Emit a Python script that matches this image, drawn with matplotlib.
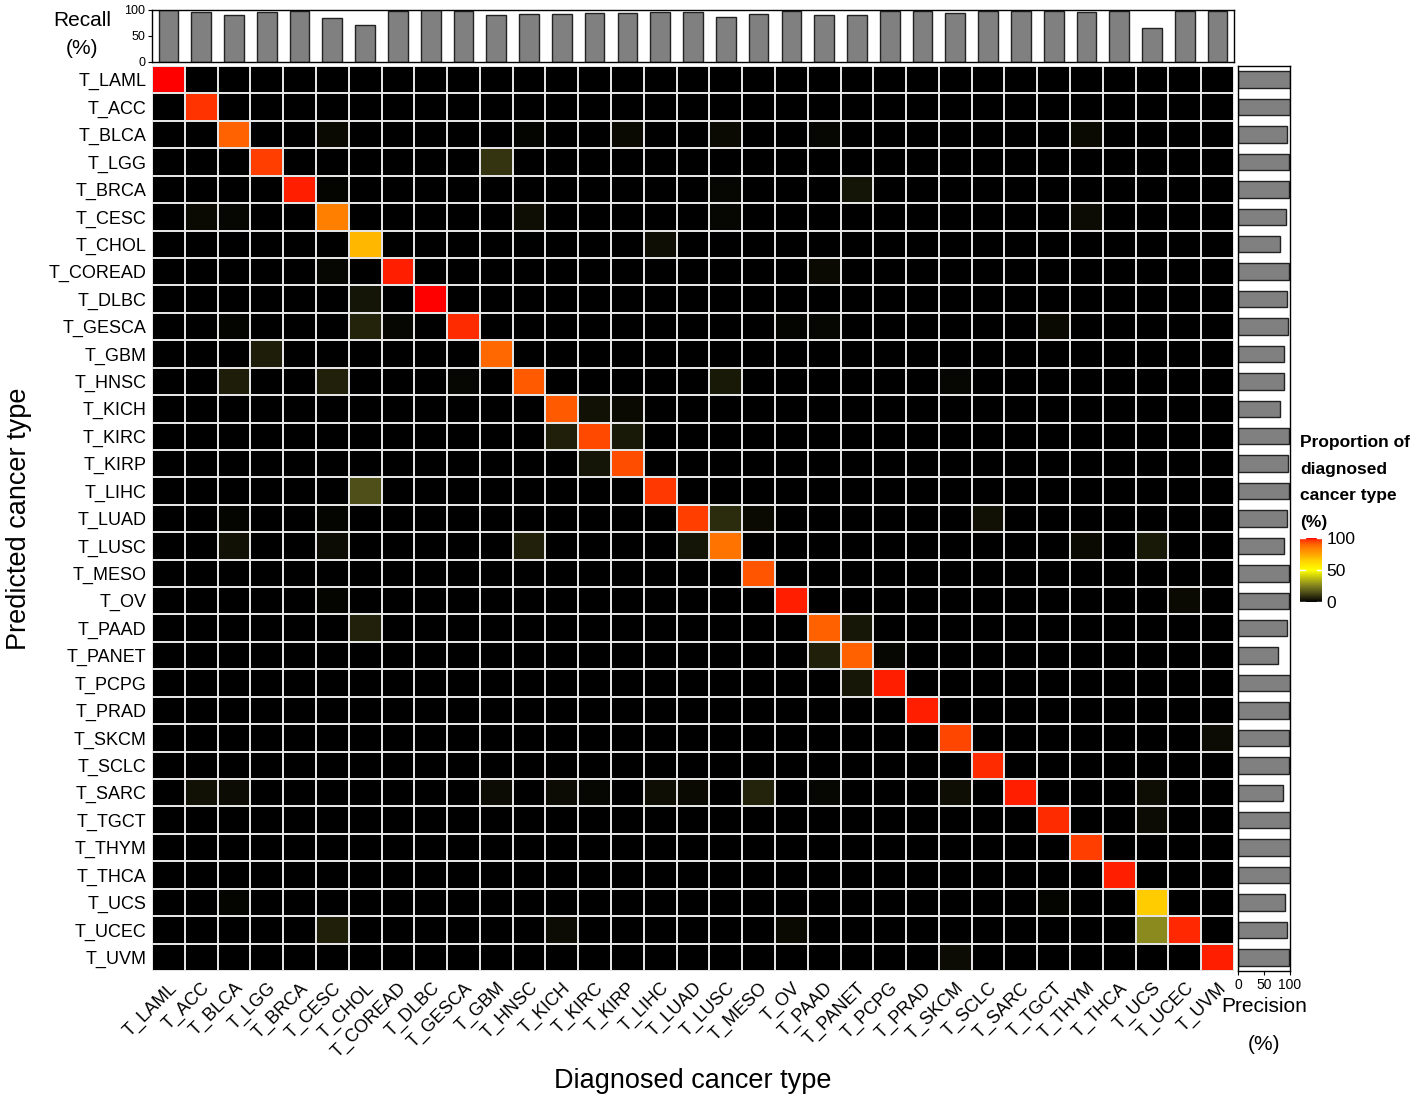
import numpy as np
import matplotlib
matplotlib.use('Agg')
import matplotlib.pyplot as plt
from matplotlib.colors import LinearSegmentedColormap

plt.rcParams['font.family'] = ['Liberation Sans', 'DejaVu Sans']

types = ['T_LAML', 'T_ACC', 'T_BLCA', 'T_LGG', 'T_BRCA', 'T_CESC', 'T_CHOL',
         'T_COREAD', 'T_DLBC', 'T_GESCA', 'T_GBM', 'T_HNSC', 'T_KICH', 'T_KIRC',
         'T_KIRP', 'T_LIHC', 'T_LUAD', 'T_LUSC', 'T_MESO', 'T_OV', 'T_PAAD',
         'T_PANET', 'T_PCPG', 'T_PRAD', 'T_SKCM', 'T_SCLC', 'T_SARC', 'T_TGCT',
         'T_THYM', 'T_THCA', 'T_UCS', 'T_UCEC', 'T_UVM']

# recall (%) per diagnosed type = diagonal of the matrix
recall = [100, 96.8, 90.3, 95.5, 98.7, 84.5, 70.3, 98.7, 100, 97.4, 89.7,
          91.6, 91.6, 94.2, 93.5, 96.1, 95.5, 87.0, 92.3, 98.7, 91.0, 91.0,
          98.7, 98.7, 94.8, 97.4, 98.7, 97.4, 95.5, 98.7, 65.8, 98.0, 98.7]

# precision (%) per predicted type
precision = [100, 100, 93.5, 97.4, 99, 92.8, 81, 99, 93.5, 96, 88, 89, 80,
             97.4, 95.4, 97.4, 93.5, 88, 99, 98, 93.5, 76, 100, 97.4, 99,
             97.4, 85.6, 100, 100, 100, 91, 93.5, 98]

# (predicted, diagnosed, % of diagnosed) for the off-diagonal cells
confusions = [
    ('T_BLCA', 'T_CESC', 2), ('T_BLCA', 'T_HNSC', 1), ('T_BLCA', 'T_KIRP', 2),
    ('T_BLCA', 'T_LUSC', 2), ('T_BLCA', 'T_PAAD', 1.5), ('T_BLCA', 'T_THYM', 2),
    ('T_LGG', 'T_GBM', 10),
    ('T_BRCA', 'T_CESC', 1), ('T_BRCA', 'T_LUSC', 1.5), ('T_BRCA', 'T_PANET', 4),
    ('T_CESC', 'T_ACC', 2), ('T_CESC', 'T_BLCA', 1.5), ('T_CESC', 'T_HNSC', 3),
    ('T_CESC', 'T_LUSC', 1.5), ('T_CESC', 'T_THYM', 2.5),
    ('T_CHOL', 'T_LIHC', 3),
    ('T_COREAD', 'T_CESC', 1.5), ('T_COREAD', 'T_PAAD', 2),
    ('T_DLBC', 'T_CHOL', 4),
    ('T_GESCA', 'T_CHOL', 7), ('T_GESCA', 'T_COREAD', 1.5), ('T_GESCA', 'T_BLCA', 1),
    ('T_GESCA', 'T_PAAD', 1.5), ('T_GESCA', 'T_TGCT', 2), ('T_GESCA', 'T_OV', 1),
    ('T_GBM', 'T_LGG', 5.5),
    ('T_HNSC', 'T_BLCA', 5.5), ('T_HNSC', 'T_CESC', 6.5), ('T_HNSC', 'T_GESCA', 1.5),
    ('T_HNSC', 'T_LUSC', 5), ('T_HNSC', 'T_SKCM', 1.5),
    ('T_KICH', 'T_KIRC', 3.5), ('T_KICH', 'T_KIRP', 2),
    ('T_KIRC', 'T_KICH', 6), ('T_KIRC', 'T_KIRP', 5),
    ('T_KIRP', 'T_KIRC', 4),
    ('T_LIHC', 'T_CHOL', 15),
    ('T_LUAD', 'T_BLCA', 1), ('T_LUAD', 'T_CESC', 1), ('T_LUAD', 'T_LUSC', 8.5),
    ('T_LUAD', 'T_MESO', 2), ('T_LUAD', 'T_SCLC', 3.5),
    ('T_LUSC', 'T_BLCA', 3.5), ('T_LUSC', 'T_CESC', 2.5), ('T_LUSC', 'T_HNSC', 6.5),
    ('T_LUSC', 'T_LUAD', 4), ('T_LUSC', 'T_THYM', 2), ('T_LUSC', 'T_UCS', 5),
    ('T_OV', 'T_CESC', 1), ('T_OV', 'T_UCEC', 2),
    ('T_PAAD', 'T_CHOL', 6.5), ('T_PAAD', 'T_PANET', 4.5),
    ('T_PANET', 'T_PAAD', 6), ('T_PANET', 'T_PCPG', 1.5),
    ('T_PCPG', 'T_PANET', 4.5),
    ('T_SKCM', 'T_UVM', 2.5),
    ('T_SARC', 'T_ACC', 3.5), ('T_SARC', 'T_BLCA', 2.5), ('T_SARC', 'T_GBM', 2.5),
    ('T_SARC', 'T_KICH', 2.5), ('T_SARC', 'T_KIRC', 1.5), ('T_SARC', 'T_LIHC', 3),
    ('T_SARC', 'T_LUAD', 2), ('T_SARC', 'T_MESO', 7), ('T_SARC', 'T_PAAD', 1.5),
    ('T_SARC', 'T_SKCM', 3), ('T_SARC', 'T_UCS', 3),
    ('T_TGCT', 'T_UCS', 2.5),
    ('T_UCS', 'T_BLCA', 1), ('T_UCS', 'T_TGCT', 1),
    ('T_UCEC', 'T_CESC', 6), ('T_UCEC', 'T_KICH', 2.5), ('T_UCEC', 'T_OV', 2),
    ('T_UCEC', 'T_UCS', 27),
    ('T_UVM', 'T_SKCM', 2.5),
]

n = len(types)
mat = np.zeros((n, n))
mat[np.arange(n), np.arange(n)] = recall
for pred, diag, val in confusions:
    mat[types.index(pred), types.index(diag)] = val

cmap = LinearSegmentedColormap.from_list('bk_yl_rd', [
    (0.0, (0, 0, 0)), (0.15, (0.31, 0.31, 0.10)), (0.27, (0.54, 0.54, 0.12)),
    (0.5, (1, 1, 0)), (0.66, (1, 0.80, 0)), (0.70, (1, 0.72, 0)),
    (0.845, (1, 0.50, 0)), (0.90, (1, 0.40, 0)), (0.95, (1, 0.27, 0)),
    (0.987, (1, 0.13, 0)), (1.0, (1, 0, 0))])

W, H = 1421, 1097
fig = plt.figure(figsize=(W / 100, H / 100), dpi=100)


def box(x0, y0, x1, y1):
    return [x0 / W, 1 - y1 / H, (x1 - x0) / W, (y1 - y0) / H]


# heatmap
ax = fig.add_axes(box(152, 66, 1234, 971))
edges = np.arange(n + 1) - 0.5
mesh = ax.pcolormesh(edges, edges, mat, cmap=cmap, vmin=0, vmax=100,
                     edgecolors='#e4e4e4', linewidth=1.2)
ax.set_xlim(-0.5, n - 0.5)
ax.set_ylim(n - 0.5, -0.5)
ax.set_xticks(range(n))
ax.set_xticklabels(types, rotation=45, ha='right', rotation_mode='anchor', fontsize=13)
ax.set_yticks(range(n))
ax.set_yticklabels(types, fontsize=13)
ax.tick_params(axis='y', length=0, pad=4)
ax.tick_params(axis='x', length=0, pad=6)
for s in ax.spines.values():
    s.set_visible(False)
ax.set_xlabel('Diagnosed cancer type', fontsize=19.5, labelpad=5)
ax.set_ylabel('Predicted cancer type', fontsize=19.5, labelpad=12)

# recall bars on top
axr = fig.add_axes(box(152, 10, 1234, 62))
axr.bar(range(n), recall, width=0.6, color='#808080', edgecolor='#222222', linewidth=1)
axr.set_xlim(-0.5, n - 0.5)
axr.set_ylim(0, 100)
axr.set_xticks([])
axr.set_yticks([0, 50, 100])
axr.tick_params(axis='y', labelsize=9, length=3, pad=2)
for s in axr.spines.values():
    s.set_linewidth(1)
fig.text(82 / W, 1 - 34 / H, 'Recall\n(%)', ha='center', va='center',
         fontsize=15, linespacing=1.6)

# precision bars on the right
axp = fig.add_axes(box(1238, 66, 1290, 971))
axp.barh(range(n), precision, height=0.6, color='#808080', edgecolor='#222222', linewidth=1)
axp.set_ylim(n - 0.5, -0.5)
axp.set_xlim(0, 100)
axp.set_yticks([])
axp.set_xticks([0, 50, 100])
axp.tick_params(axis='x', labelsize=10, length=3, pad=2)
for s in axp.spines.values():
    s.set_linewidth(1)
fig.text(1264 / W, 1 - 1025 / H, 'Precision\n\n(%)', ha='center', va='center',
         fontsize=15, linespacing=1.0)

# colour legend
cax = fig.add_axes(box(1300, 538, 1322, 602))
cb = fig.colorbar(mesh, cax=cax, ticks=[0, 50, 100])
cb.outline.set_visible(False)
cax.tick_params(length=0, labelsize=12.5, pad=3)
for v in [0, 50, 100]:
    cax.axhline(v, xmin=0, xmax=0.22, color='white', lw=1)
    cax.axhline(v, xmin=0.78, xmax=1, color='white', lw=1)
fig.text(1300 / W, 1 - 435 / H, 'Proportion of\ndiagnosed\ncancer type\n(%)',
         ha='left', va='top', fontsize=12.5, fontweight='bold', linespacing=1.97)

fig.savefig('out.png', dpi=100)
